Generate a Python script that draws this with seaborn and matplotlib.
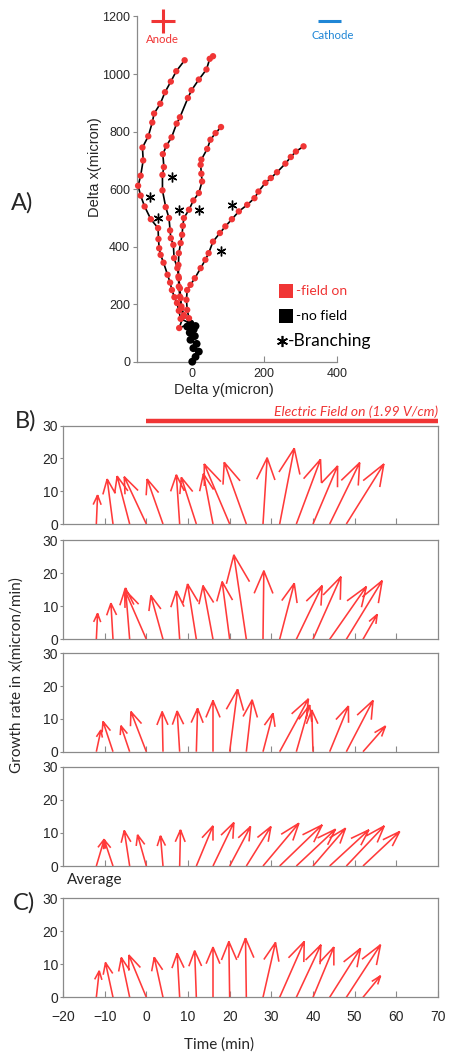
import numpy as np
import pandas as pd
import matplotlib
matplotlib.use("Agg")
import matplotlib.pyplot as plt
import seaborn as sns

sns.set_theme(style="white")
plt.rcParams['font.family'] = ['Liberation Sans', 'DejaVu Sans']
plt.rcParams['axes.unicode_minus'] = True

RED = "#f03535"
ARROW_RED = "#ff3a3a"
GREY = "#8a8a8a"
BLUE = "#1f86d6"
LABEL_FONT = ['Lato', 'DejaVu Sans']

# ---------------- Panel A: growth-cone trajectories (micron) ----------------
TRUNK_Y = [2, 11, 20, 5, 14, -3, 9, -5, 6, -12, 11, -3]
TRUNK_X = [1, 18, 36, 48, 63, 77, 90, 102, 113, 123, 125, 134]

B1_Y = [-30, -35, -40, -47, -54, -59, -66, -77, -85, -89, -91, -92, -112, -129,
        -140, -147, -140, -133, -135, -119, -108, -103, -86, -73, -57, -42, -19]
B1_X = [150, 178, 205, 225, 250, 276, 303, 345, 372, 395, 427, 465, 496, 540,
        578, 612, 647, 700, 745, 784, 832, 863, 897, 937, 974, 1010, 1048]

B2_Y = [-34, -23, -28, -30, -32, -35, -39, -48, -50, -57, -59, -62, -71, -80,
        -80, -76, -79, -69, -55, -41, -32, -10, 0, 20, 41, 50, 59]
B2_X = [118, 158, 187, 222, 256, 291, 326, 361, 407, 430, 457, 500, 538, 596,
        650, 677, 722, 751, 780, 828, 850, 917, 944, 981, 1016, 1053, 1062]

B3_Y = [-21, -28, -32, -35, -36, -36, -35, -30, -26, -24, -21, -7, 5, 20, 29,
        27, 25, 27, 43, 52, 66, 81]
B3_X = [163, 193, 227, 262, 297, 337, 378, 413, 442, 473, 500, 529, 561, 587,
        627, 654, 685, 703, 740, 772, 795, 816]

B4_Y = [-7, -12, -14, -12, -3, 9, 25, 38, 47, 59, 78, 93, 111, 130, 153, 173,
        184, 203, 218, 235, 258, 273, 287, 308]
B4_X = [152, 181, 216, 250, 268, 291, 326, 355, 378, 418, 448, 471, 496, 523,
        546, 569, 592, 622, 639, 659, 689, 712, 731, 749]

BRANCH_Y = [-53, -114, -93, -34, 20, 112, 80]
BRANCH_X = [642, 574, 500, 529, 527, 546, 385]

# ---------------- Panels B, C: growth-rate vectors ----------------
BASE_T = [-12, -8, -4, 0, 4, 8, 12, 16, 20, 24, 28, 32, 36, 40, 44, 48, 52]

CELL1_TIP_T = [-11.7, -9.4, -7.0, -5.3, 0.2, 7.2, 8.4, 13.7, 13.9, 18.7, 29.0,
               35.5, 41.8, 45.9, 51.2, 57.0]
CELL1_RATE = [8.8, 13.7, 14.6, 14.4, 13.7, 15.0, 14.2, 15.3, 18.3, 18.8, 20.2,
              23.1, 19.7, 17.7, 18.7, 18.3]

CELL2_TIP_T = [-11.7, -8.5, -5.0, -5.2, 1.1, 7.2, 9.9, 13.6, 18.2, 21.0, 28.2,
               35.5, 42.2, 46.7, 52.8, 56.6, 55.4]
CELL2_RATE = [7.8, 10.9, 15.5, 15.0, 13.2, 14.6, 16.7, 16.2, 17.4, 25.5, 20.7,
              16.9, 16.2, 18.9, 15.9, 17.7, 7.5]

CELL3_TIP_T = [-10.9, -10.4, -6.1, -3.7, 3.8, 7.4, 12.3, 16.0, 21.9, 25.4, 30.4,
               38.9, 39.2, 39.7, 48.5, 54.4, 57.4]
CELL3_RATE = [6.6, 9.2, 7.9, 12.2, 12.2, 12.4, 13.2, 15.6, 19.0, 15.8, 11.7,
              16.1, 14.2, 12.7, 13.9, 15.6, 7.8]

CELL4_TIP_T = [-10.1, -10.1, -5.3, -2.1, 3.4, 8.2, 16.0, 21.0, 25.0, 29.9, 36.6,
               42.2, 45.4, 47.8, 53.4, 57.1, 60.8]
CELL4_RATE = [8.1, 7.9, 10.7, 9.4, 9.1, 10.9, 12.1, 13.1, 11.9, 11.9, 12.9,
              12.4, 11.1, 11.4, 10.9, 12.1, 10.4]

AVG_TIP_T = [-11.3, -9.8, -6.0, -4.2, 1.9, 7.4, 11.6, 16.0, 19.8, 23.8, 31.0,
             37.9, 41.9, 45.0, 51.4, 56.2, 56.2]
AVG_RATE = [8.0, 10.5, 12.0, 12.8, 12.1, 13.3, 14.1, 15.2, 16.9, 17.9, 16.6,
            16.9, 15.9, 15.2, 14.8, 15.9, 6.5]

FIELD_ON = (0, 70)

W, H = 453, 1053
fig = plt.figure(figsize=(W / 100, H / 100), dpi=100)


def frac(left, top, right, bottom):
    return [left / W, 1 - bottom / H, (right - left) / W, (bottom - top) / H]


# ---------------- Panel A ----------------
axA = fig.add_axes(frac(137, 16.5, 337, 362))

trunk_top = (TRUNK_Y[-1], TRUNK_X[-1])
rows_line, rows_pts = [], []
for i, (y, x) in enumerate(zip(TRUNK_Y, TRUNK_X)):
    rows_line.append(dict(path="trunk", step=i, dy=y, dx=x))
    rows_pts.append(dict(field="off", dy=y, dx=x))
for name, ys, xs in [("b1", B1_Y, B1_X), ("b2", B2_Y, B2_X),
                     ("b3", B3_Y, B3_X), ("b4", B4_Y, B4_X)]:
    rows_line.append(dict(path=name, step=0, dy=trunk_top[0], dx=trunk_top[1]))
    for i, (y, x) in enumerate(zip(ys, xs)):
        rows_line.append(dict(path=name, step=i + 1, dy=y, dx=x))
        rows_pts.append(dict(field="on", dy=y, dx=x))
lines_df = pd.DataFrame(rows_line)
pts_df = pd.DataFrame(rows_pts)

sns.lineplot(data=lines_df, x="dy", y="dx", units="path", estimator=None,
             sort=False, color="black", lw=1.2, ax=axA, zorder=2)
sns.scatterplot(data=pts_df[pts_df.field == "off"], x="dy", y="dx",
                color="black", s=32, edgecolor="none", ax=axA, zorder=3,
                clip_on=False, legend=False)
sns.scatterplot(data=pts_df[pts_df.field == "on"], x="dy", y="dx",
                color=RED, s=21, edgecolor="none", ax=axA, zorder=4,
                clip_on=False, legend=False)
axA.plot(BRANCH_Y, BRANCH_X, ls="none", marker=(6, 2, 0), ms=7, mew=1.0,
         color="black", zorder=5)

axA.set_xlim(-150, 400)
axA.set_ylim(0, 1200)
axA.set_xticks([0, 200, 400])
axA.set_yticks(range(0, 1201, 200))
for s in ("top", "right"):
    axA.spines[s].set_visible(False)
for s in ("left", "bottom"):
    axA.spines[s].set_color(GREY)
    axA.spines[s].set_linewidth(0.9)
axA.tick_params(axis="x", direction="in", length=4, width=0.8, color=GREY,
                labelsize=9, pad=4, bottom=True)
axA.tick_params(axis="y", direction="out", length=3, width=0.8, color=GREY,
                labelsize=9, pad=2, left=True)
axA.set_xlabel("")
axA.set_ylabel("")
fig.text(224 / W, 1 - 390 / H, "Delta y(micron)", ha="center", va="center",
         fontsize=10.5)
fig.text(95 / W, 1 - 167 / H, "Delta x(micron)", ha="center", va="center",
         rotation=90, fontsize=10.5)
fig.text(22 / W, 1 - 203 / H, "A)", ha="center", va="center", fontsize=17,
         family=LABEL_FONT)

# electrode marks
tA = axA.transAxes
axA.plot([0.1275], [0.987], marker="+", ms=17, mew=2.2, color=RED,
         transform=tA, clip_on=False)
axA.text(0.1275, 0.932, "Anode", transform=tA, ha="center", va="center",
         color=RED, fontsize=8.2, family=LABEL_FONT)
axA.plot([0.905, 1.02], [0.987, 0.987], color=BLUE, lw=2.2, transform=tA,
         clip_on=False, solid_capstyle="butt")
axA.text(0.98, 0.946, "Cathode", transform=tA, ha="center", va="center",
         color=BLUE, fontsize=8.2, family=LABEL_FONT)

# legend
axA.plot([0.7425], [0.2055], marker="s", ms=9.5, color=RED, transform=tA,
         clip_on=False, mew=0)
axA.text(0.795, 0.2055, "-field on", transform=tA, va="center", ha="left",
         color=RED, fontsize=10, family=LABEL_FONT)
axA.plot([0.7425], [0.1317], marker="s", ms=9.5, color="black", transform=tA,
         clip_on=False, mew=0)
axA.text(0.795, 0.1317, "-no field", transform=tA, va="center", ha="left",
         color="black", fontsize=10, family=LABEL_FONT)
axA.plot([0.725], [0.0608], marker=(6, 2, 0), ms=8, mew=1.2, color="black",
         transform=tA, clip_on=False)
axA.text(0.755, 0.0608, "-Branching", transform=tA, va="center", ha="left",
         color="black", fontsize=12.5, family=LABEL_FONT)


# ---------------- Panels B, C ----------------
def draw_vectors(ax, base, tip, rate, alpha=0.33, beta=0.33):
    xs, ys = [], []
    for b, t, v in zip(base, tip, rate):
        u = t - b
        h1 = (t - alpha * (u + beta * v), v - alpha * (v - beta * u))
        h2 = (t - alpha * (u - beta * v), v - alpha * (v + beta * u))
        xs += [b, t, np.nan, h1[0], t, h2[0], np.nan]
        ys += [0, v, np.nan, h1[1], v, h2[1], np.nan]
    ax.plot(xs, ys, color=ARROW_RED, lw=1.15, solid_joinstyle="miter",
            solid_capstyle="butt", zorder=3)


def style_rate_axes(ax, show_xlabels):
    ax.set_xlim(-20, 70)
    ax.set_ylim(0, 30)
    ax.set_yticks([0, 10, 20, 30])
    if show_xlabels:
        ax.set_xticks(range(-20, 71, 10))
    else:
        ax.set_xticks(range(-10, 61, 10))
        ax.set_xticklabels([])
    for s in ax.spines.values():
        s.set_visible(True)
        s.set_color(GREY)
        s.set_linewidth(0.9)
    ax.tick_params(axis="x", direction="in", length=4, width=0.8, color=GREY,
                   labelsize=10, pad=9, bottom=True)
    ax.tick_params(axis="y", direction="out", length=2, width=0.8, color=GREY,
                   labelsize=10, pad=1.5, left=True)


panels = [
    ((425.7, 524.0), CELL1_TIP_T, CELL1_RATE),
    ((540.0, 639.3), CELL2_TIP_T, CELL2_RATE),
    ((653.3, 751.7), CELL3_TIP_T, CELL3_RATE),
    ((766.7, 866.0), CELL4_TIP_T, CELL4_RATE),
    ((898.3, 997.3), AVG_TIP_T, AVG_RATE),
]
rate_axes = []
for k, ((top, bottom), tips, rates) in enumerate(panels):
    ax = fig.add_axes(frac(63, top, 438, bottom))
    draw_vectors(ax, BASE_T[:len(tips)], tips, rates)
    style_rate_axes(ax, show_xlabels=(k == len(panels) - 1))
    rate_axes.append(ax)

# field-on bar above the first cell
ax0 = rate_axes[0]
bar_tr = ax0.get_xaxis_transform()
ax0.plot(FIELD_ON, [1.05, 1.05], color=RED, lw=3.2, transform=bar_tr,
         clip_on=False, solid_capstyle="butt")
ax0.text(FIELD_ON[1], 1.14, "Electric Field on (1.99 V/cm)", transform=bar_tr,
         ha="right", va="center", color=RED, fontsize=10, style="italic",
         family=LABEL_FONT)

fig.text(26 / W, 1 - 421 / H, "B)", ha="center", va="center", fontsize=17,
         family=LABEL_FONT)
fig.text(24 / W, 1 - 903 / H, "C)", ha="center", va="center", fontsize=17,
         family=LABEL_FONT)
fig.text(67 / W, 1 - 880 / H, "Average", ha="left", va="center", fontsize=11,
         family=LABEL_FONT)
fig.text(219 / W, 1 - 1045 / H, "Time (min)", ha="center", va="center",
         fontsize=11, family=LABEL_FONT)
fig.text(17 / W, 1 - 675 / H, "Growth rate in x(micron/min)", ha="center",
         va="center", rotation=90, fontsize=11, family=LABEL_FONT)

fig.savefig("out.png", dpi=100, facecolor="white")
